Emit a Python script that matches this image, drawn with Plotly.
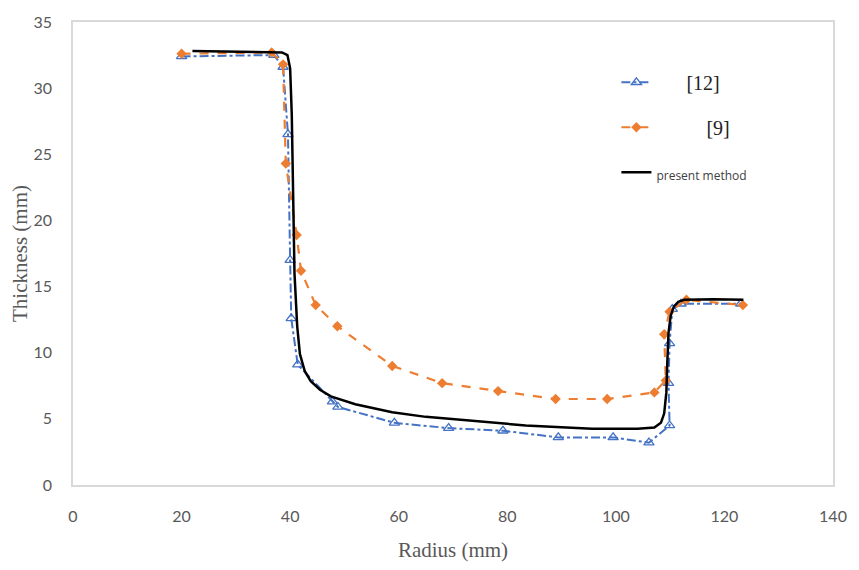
import plotly.graph_objects as go

# [12] series
ref12_x = [20, 37.0, 38.7, 39.6, 40.0, 40.2, 41.4, 47.8, 48.8, 59.2, 69.2, 79.2, 89.4, 99.5, 106.1, 109.9, 109.7, 109.9, 110.4, 112, 123]
ref12_y = [32.4, 32.5, 31.6, 26.5, 17.0, 12.6, 9.1, 6.3, 5.9, 4.7, 4.3, 4.1, 3.6, 3.6, 3.2, 4.5, 7.7, 10.7, 13.3, 13.7, 13.7]

# [9] series
ref9_x = [20, 36.6, 38.7, 39.2, 41.2, 42.0, 44.7, 48.7, 58.8, 68.0, 78.3, 88.9, 98.4, 107.1, 109.2, 108.9, 109.9, 113, 123.4]
ref9_y = [32.6, 32.7, 31.8, 24.3, 18.9, 16.2, 13.6, 12.0, 9.0, 7.7, 7.1, 6.5, 6.5, 7.0, 7.9, 11.4, 13.1, 14.0, 13.6]

# present method
pm_x = [22, 38.5, 39.5, 40.0, 40.3, 40.5, 40.8, 41.3, 41.8, 42.7, 43.8, 45.5, 47.5, 52, 58.8, 65, 72, 83.4, 95.6, 104, 107.1, 108.3, 108.9, 109.3, 109.5, 109.7, 110.1, 110.7, 111.5, 112.6, 118, 123.5]
pm_y = [32.8, 32.7, 32.5, 31.5, 28, 22, 16, 12, 9.9, 8.6, 7.85, 7.2, 6.7, 6.1, 5.5, 5.15, 4.9, 4.5, 4.26, 4.25, 4.34, 4.7, 5.4, 7, 9.5, 11.5, 12.8, 13.5, 13.85, 14.0, 14.05, 14.0]

x_ticks = [0, 20, 40, 60, 80, 100, 120, 140]
y_ticks = [0, 5, 10, 15, 20, 25, 30, 35]

serif = "Liberation Serif"
gray = "#595959"

fig = go.Figure()
fig.add_trace(go.Scatter(
    x=ref12_x, y=ref12_y, mode="lines+markers", legendgroup="a",
    name="<span style='font-family:Liberation Serif;font-size:20px;color:#222'>      [12]</span>",
    line=dict(color="#4472C4", width=2, dash="dashdot"),
    marker=dict(symbol="triangle-up-open", size=9, color="#4472C4", line=dict(width=1.3)),
))
fig.add_trace(go.Scatter(
    x=ref9_x, y=ref9_y, mode="lines+markers", legendgroup="b",
    name="<span style='font-family:Liberation Serif;font-size:20px;color:#222'>          [9]</span>",
    line=dict(color="#ED7D31", width=2.2, dash="dash"),
    marker=dict(symbol="diamond", size=8, color="#ED7D31"),
))
fig.add_trace(go.Scatter(
    x=pm_x, y=pm_y, mode="lines", legendgroup="c",
    name="<span style='font-family:Open Sans;font-size:12px;color:#404040'>present method</span>",
    line=dict(color="black", width=2.5),
))

fig.update_layout(
    width=859, height=570,
    margin=dict(l=73, r=19, t=17, b=85),
    paper_bgcolor="white", plot_bgcolor="white",
    font=dict(family="Lato", size=16, color=gray),
    showlegend=True,
    legend=dict(x=0.715, y=0.912, xanchor="left", yanchor="top",
                bgcolor="rgba(0,0,0,0)", tracegroupgap=16, traceorder="grouped",
                font=dict(size=20)),
    xaxis=dict(range=[0, 140], tickvals=x_ticks, showgrid=False, zeroline=False,
               showline=True, linecolor="#d9d9d9", linewidth=1.5, mirror=True,
               ticks="", ticklabelstandoff=16, tickfont=dict(family="Lato", size=16, color=gray),
               title=dict(text="Radius (mm)", font=dict(family=serif, size=21, color=gray), standoff=18)),
    yaxis=dict(range=[0, 35], tickvals=y_ticks, showgrid=False, zeroline=False,
               showline=True, linecolor="#d9d9d9", linewidth=1.5, mirror=True,
               ticks="", ticklabelstandoff=16, tickfont=dict(family="Lato", size=16, color=gray),
               title=dict(text="Thickness (mm)", font=dict(family=serif, size=21, color=gray), standoff=0)),
)

fig.write_html("out.html")
